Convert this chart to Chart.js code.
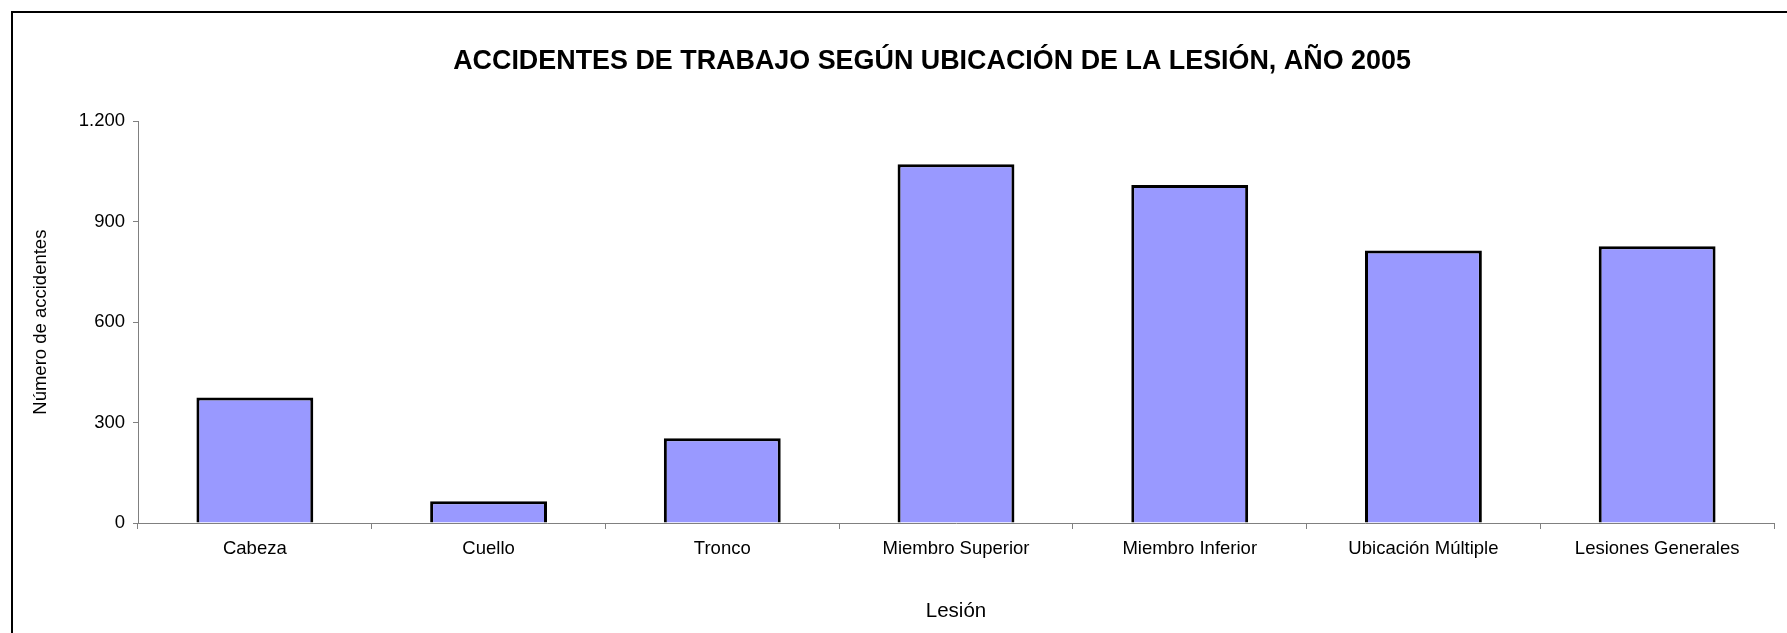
<!DOCTYPE html>
<html>
<head>
<meta charset="utf-8">
<script src="https://cdn.jsdelivr.net/npm/chart.js@4"></script>
<style>
    html, body { margin: 0; padding: 0; background: #fff; }
    .wrap { width: 1787px; height: 633px; position: relative; }
</style>
</head>
<body>
<div class="wrap"><canvas id="chart"></canvas></div>
<script>
var categories = ["Cabeza", "Cuello", "Tronco", "Miembro Superior", "Miembro Inferior", "Ubicación Múltiple", "Lesiones Generales"];
var accidentes = [375, 65, 253, 1072, 1010, 814, 827];
var yTicks = [0, 300, 600, 900, 1200];

var font = "'Liberation Sans', Arial, sans-serif";
var axisGrey = '#808080';

// outer frame, only top and left edges are visible in the picture
// also nudges the title box right, the original title is not centred on the canvas
var framePlugin = {
    id: 'frame',
    afterLayout: function (chart) {
        if (chart.titleBlock) {
            chart.titleBlock.left += 90;
        }
    },
    beforeDraw: function (chart) {
        var c = chart.ctx;
        c.save();
        c.fillStyle = '#fff';
        c.fillRect(0, 0, chart.width, chart.height);
        c.strokeStyle = '#000';
        c.lineWidth = 2;
        c.strokeRect(12, 12, chart.width + 20, chart.height + 20);
        c.restore();
    }
};

function miles(v) {
    return String(v).replace(/\B(?=(\d{3})+(?!\d))/g, '.');
}

var ctx = document.getElementById("chart").getContext('2d');
var myChart = new Chart(ctx, {
    type: 'bar',
    data: {
        labels: categories,
        datasets: [{
            label: 'Número de accidentes',
            data: accidentes,
            backgroundColor: '#9999FF',
            borderColor: '#000000',
            borderWidth: 3,
            categoryPercentage: 1,
            barPercentage: 0.5
        }]
    },
    options: {
        responsive: true,
        maintainAspectRatio: false,
        animation: false,
        layout: { padding: { left: 0, right: 13, top: 0, bottom: 0 } },
        plugins: {
            legend: { display: false },
            tooltip: { enabled: false },
            title: {
                display: true,
                text: 'ACCIDENTES DE TRABAJO SEGÚN UBICACIÓN DE LA LESIÓN, AÑO 2005',
                color: '#000',
                font: { family: font, size: 26.9, weight: 'bold' },
                padding: { top: 45, bottom: 44 }
            }
        },
        scales: {
            x: {
                grid: {
                    offset: true,
                    drawOnChartArea: false,
                    drawTicks: true,
                    tickLength: 6,
                    color: axisGrey
                },
                border: { display: true, color: axisGrey, width: 1 },
                ticks: {
                    color: '#000',
                    font: { family: font, size: 18.5 },
                    padding: 9,
                    maxRotation: 0,
                    autoSkip: false
                },
                title: {
                    display: true,
                    text: 'Lesión',
                    color: '#000',
                    font: { family: font, size: 20.5 },
                    padding: { top: 0, bottom: 9 }
                },
                afterFit: function (scale) { scale.height = 110; }
            },
            y: {
                min: 0,
                max: 1200,
                afterBuildTicks: function (scale) {
                    scale.ticks = yTicks.map(function (v) { return { value: v }; });
                },
                grid: {
                    drawOnChartArea: false,
                    drawTicks: true,
                    tickLength: 5,
                    color: axisGrey
                },
                border: { display: true, color: axisGrey, width: 1 },
                ticks: {
                    color: '#000',
                    font: { family: font, size: 18.5 },
                    padding: 8,
                    callback: function (v) { return miles(v); }
                },
                title: {
                    display: true,
                    text: 'Número de accidentes',
                    color: '#000',
                    font: { family: font, size: 18.5 },
                    padding: { top: 30, bottom: 0 }
                },
                afterFit: function (scale) { scale.width = 138; }
            }
        }
    },
    plugins: [framePlugin]
});
</script>
</body>
</html>
